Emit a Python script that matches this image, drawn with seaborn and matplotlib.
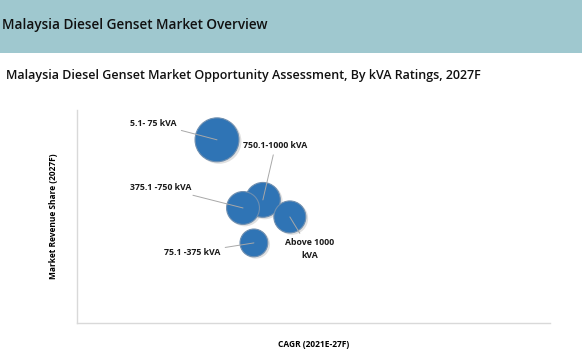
import matplotlib
matplotlib.use("Agg")
import matplotlib.pyplot as plt
from matplotlib.patches import Rectangle
import seaborn as sns
import pandas as pd

# bubble data (no tick labels on the original, units are relative)
segments = ["5.1- 75 kVA", "750.1-1000 kVA", "375.1 -750 kVA", "Above 1000\nkVA", "75.1 -375 kVA"]
cagr = [2.96, 3.93, 3.51, 4.50, 3.74]
share = [43.0, 28.9, 27.0, 24.9, 18.8]
bubble = [10.0, 6.3, 5.6, 5.3, 4.0]

df = pd.DataFrame({"segment": segments, "cagr": cagr, "share": share, "bubble": bubble})

sns.set_theme(style="white")
plt.rcParams["font.family"] = ["Open Sans", "DejaVu Sans"]

fig = plt.figure(figsize=(5.82, 3.55), dpi=100)

# header band
fig.patches.append(Rectangle((0, 1 - 53 / 355), 1, 53 / 355, transform=fig.transFigure,
                             facecolor="#9FC8CF", edgecolor="none", zorder=0))
fig.text(2 / 582, 1 - 25 / 355, "Malaysia Diesel Genset Market Overview",
         fontsize=9.8, fontweight="semibold", color="#111111", va="center", ha="left")
fig.text(6 / 582, 1 - 76 / 355,
         "Malaysia Diesel Genset Market Opportunity Assessment, By kVA Ratings, 2027F",
         fontsize=9.0, fontweight="semibold", color="#111111", va="center", ha="left")

ax = fig.add_axes([77 / 582, (355 - 323) / 355, (550 - 77) / 582, (323 - 110) / 355])

# soft shadow under the bubbles
ax.scatter([c + 0.04 for c in cagr], [s - 0.35 for s in share], s=df["bubble"] * 100 * 1.05,
           color="#9A9A9A", alpha=0.3, linewidth=0, zorder=2)
sns.scatterplot(data=df, x="cagr", y="share", s=df["bubble"] * 100, color="#2F74B5",
                edgecolor="#6F8FB0", linewidth=0.8, alpha=1, ax=ax, legend=False, zorder=3)

# label offsets (points) from bubble centre
offsets = [(-29, 12, "right"), (9, 39, "center"), (-37, 15, "right"), (14, -23, "center"), (-24, -7, "right")]
for (_, row), (dx, dy, ha) in zip(df.iterrows(), offsets):
    ax.annotate(row["segment"], xy=(row["cagr"], row["share"]), xytext=(dx, dy),
                textcoords="offset points", ha=ha, va="center", fontsize=6.3,
                fontweight="bold", color="#1A1A1A", linespacing=1.6, zorder=4,
                arrowprops=dict(arrowstyle="-", color="#A8A8A8", lw=0.7, shrinkA=1, shrinkB=0))

ax.set_xlim(0, 10)
ax.set_ylim(0, 50)
ax.set_xticks([])
ax.set_yticks([])
for side in ["top", "right"]:
    ax.spines[side].set_visible(False)
for side in ["left", "bottom"]:
    ax.spines[side].set_color("#D9D9D9")
    ax.spines[side].set_linewidth(1)

ax.set_xlabel("CAGR (2021E-27F)", fontsize=6, fontweight="bold", color="#000000", labelpad=12)
ax.set_ylabel("Market Revenue Share (2027F)", fontsize=6, fontweight="bold", color="#000000", labelpad=14)

fig.savefig("out.png", dpi=100)
